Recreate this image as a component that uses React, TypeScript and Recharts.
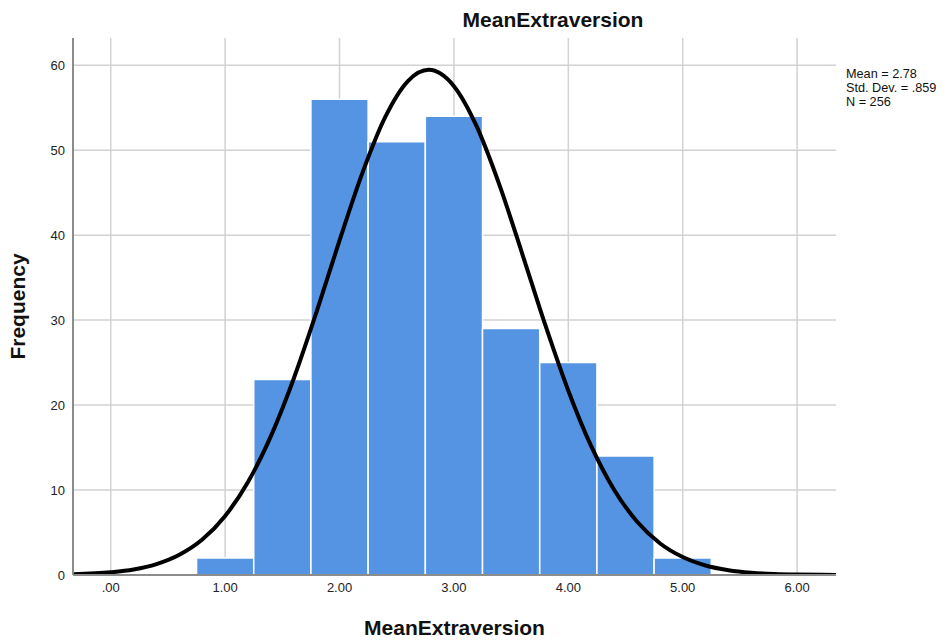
import { ComposedChart, Line, XAxis, YAxis, CartesianGrid, ReferenceArea, Label } from 'recharts';

// histogram bins (lower edge, upper edge, count)
const binStart = [0.75, 1.25, 1.75, 2.25, 2.75, 3.25, 3.75, 4.25, 4.75];
const binEnd = [1.25, 1.75, 2.25, 2.75, 3.25, 3.75, 4.25, 4.75, 5.25];
const counts = [2, 23, 56, 51, 54, 29, 25, 14, 2];

// normal curve
const curveX = [-0.33, 0, 0.2, 0.4, 0.6, 0.8, 1.0, 1.2, 1.4, 1.6, 1.8, 2.0, 2.2, 2.4, 2.6, 2.78, 3.0, 3.2, 3.4, 3.6, 3.8, 4.0, 4.2, 4.4, 4.6, 4.8, 5.0, 5.2, 5.4, 5.6, 5.8, 6.0, 6.34];
const curveY = [0.08, 0.32, 0.65, 1.28, 2.38, 4.17, 6.95, 10.95, 16.35, 23.13, 31.0, 39.37, 47.33, 53.91, 58.16, 59.45, 57.53, 52.76, 45.82, 37.69, 29.37, 21.69, 15.16, 10.04, 6.3, 3.74, 2.11, 1.12, 0.57, 0.27, 0.12, 0.05, 0.01];

const xTicks = [0, 1, 2, 3, 4, 5, 6];
const yTicks = [0, 10, 20, 30, 40, 50, 60];
const stats = ['Mean = 2.78', 'Std. Dev. = .859', 'N = 256'];

const curveData = curveX.map((x, i) => ({ x, y: curveY[i] }));

const fmtX = (v: number) => (v === 0 ? '.00' : v.toFixed(2));

export default function App() {
  return (
    <div style={{ position: 'relative', width: 952, height: 643, fontFamily: '"Liberation Sans", Arial, sans-serif', background: '#fff' }}>
      <style>{'body{margin:0}'}</style>
      <div style={{ position: 'absolute', left: 553, top: 8, transform: 'translateX(-50%)', fontSize: 21, fontWeight: 'bold', color: '#111', whiteSpace: 'nowrap' }}>
        MeanExtraversion
      </div>
      <div style={{ position: 'absolute', left: 846, top: 67, fontSize: 12.7, lineHeight: '14px', color: '#111' }}>
        {stats.map((s) => (
          <div key={s}>{s}</div>
        ))}
      </div>
      <ComposedChart width={952} height={643} data={curveData} margin={{ top: 38, right: 116, bottom: 38, left: 13 }}>
        <CartesianGrid stroke="#d2d2d2" strokeWidth={1.5} verticalValues={xTicks} horizontalValues={yTicks} />
        <XAxis
          dataKey="x"
          type="number"
          domain={[-0.33, 6.34]}
          ticks={xTicks}
          tickFormatter={fmtX}
          allowDataOverflow
          height={30}
          tickLine={false}
          axisLine={{ stroke: '#8c8c8c', strokeWidth: 2 }}
          tick={{ fill: '#222', fontSize: 13 }}
        >
          <Label value="MeanExtraversion" position="bottom" offset={15} style={{ fontSize: 21, fontWeight: 'bold', fill: '#111' }} />
        </XAxis>
        <YAxis
          type="number"
          domain={[0, 63.2]}
          ticks={yTicks}
          allowDataOverflow
          width={60}
          tickLine={false}
          axisLine={{ stroke: '#8c8c8c', strokeWidth: 2 }}
          tick={{ fill: '#222', fontSize: 13 }}
        >
          <Label value="Frequency" angle={-90} position="insideLeft" offset={5} style={{ fontSize: 21, fontWeight: 'bold', fill: '#111', textAnchor: 'middle' }} />
        </YAxis>
        {counts.map((c, i) => (
          <ReferenceArea
            key={i}
            x1={binStart[i]}
            x2={binEnd[i]}
            y1={0}
            y2={c}
            fill="#5594e3"
            fillOpacity={1}
            stroke="#ffffff"
            strokeWidth={1.5}
          />
        ))}
        <Line type="monotone" dataKey="y" stroke="#000" strokeWidth={4} dot={false} isAnimationActive={false} />
      </ComposedChart>
    </div>
  );
}
